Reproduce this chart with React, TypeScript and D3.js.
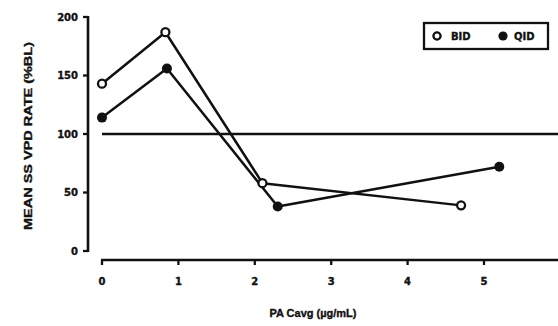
import React from "react";
import * as d3 from "d3";

// Dosing regimens: mean steady-state VPD rate vs PA Cavg
const bidDose = [0, 0.83, 2.1, 4.7];
const bidRate = [143, 187, 58, 39];
const qidDose = [0, 0.85, 2.3, 5.2];
const qidRate = [114, 156, 38, 72];

const yTicks = [0, 50, 100, 150, 200];
const xTicks = [0, 1, 2, 3, 4, 5];
const baselineRate = 100;

const legendLabels = ["BID", "QID"];
const yTitle = "MEAN SS VPD RATE (%BL)";
const xTitle = "PA Cavg (\u00b5g/mL)";

const W = 558;
const H = 326;
const font = "'DejaVu Sans', sans-serif";
const titleFont = "'Liberation Sans', Arial, sans-serif";
const ink = "#111";

// bold, slightly heavy lettering
const heavy = { stroke: ink, strokeWidth: 0.35 };

export default function App() {
  const x = d3.scaleLinear().domain([0, 6]).range([102, 560.4]);
  const y = d3.scaleLinear().domain([0, 200]).range([251, 17]);

  const line = d3
    .line<[number, number]>()
    .x((d) => x(d[0]))
    .y((d) => y(d[1]));

  const bid: [number, number][] = bidDose.map((d, i) => [d, bidRate[i]]);
  const qid: [number, number][] = qidDose.map((d, i) => [d, qidRate[i]]);

  const axisX = 88;
  const axisY = 260;

  return (
    <svg
      width={W}
      height={H}
      style={{ position: "absolute", left: 0, top: 0, background: "#fff" }}
    >
      <rect width={W} height={H} fill="#fff" />

      {/* y axis */}
      <line x1={axisX} x2={axisX} y1={y(200) - 1} y2={y(0) + 1} stroke={ink} strokeWidth={2.6} />
      {yTicks.map((t) => (
        <g key={t}>
          <line x1={axisX - 5} x2={axisX} y1={y(t)} y2={y(t)} stroke={ink} strokeWidth={2.3} />
          <text
            x={78}
            y={y(t)}
            dy="0.36em"
            textAnchor="end"
            fontFamily={font}
            fontWeight="bold"
            fontSize={10}
            fill={ink}
            {...heavy}
          >
            {t}
          </text>
        </g>
      ))}

      {/* x axis */}
      <line x1={x(0) - 1} x2={W} y1={axisY} y2={axisY} stroke={ink} strokeWidth={2.6} />
      {xTicks.map((t) => (
        <g key={t}>
          <line x1={x(t)} x2={x(t)} y1={axisY} y2={axisY + 5} stroke={ink} strokeWidth={2.3} />
          <text
            x={x(t)}
            y={281}
            dy="0.36em"
            textAnchor="middle"
            fontFamily={font}
            fontWeight="bold"
            fontSize={10}
            fill={ink}
            {...heavy}
          >
            {t}
          </text>
        </g>
      ))}

      {/* baseline reference */}
      <line
        x1={x(0)}
        x2={W}
        y1={y(baselineRate)}
        y2={y(baselineRate)}
        stroke={ink}
        strokeWidth={2.6}
      />

      {/* series lines */}
      <path d={line(bid) || ""} fill="none" stroke={ink} strokeWidth={2.5} strokeLinejoin="round" />
      <path d={line(qid) || ""} fill="none" stroke={ink} strokeWidth={2.5} strokeLinejoin="round" />

      {bid.map((d, i) => (
        <circle key={"b" + i} cx={x(d[0])} cy={y(d[1])} r={4} fill="#fff" stroke={ink} strokeWidth={2.3} />
      ))}
      {qid.map((d, i) => (
        <circle key={"q" + i} cx={x(d[0])} cy={y(d[1])} r={5} fill={ink} />
      ))}

      {/* legend */}
      <rect x={424} y={23} width={124} height={26} fill="#fff" stroke={ink} strokeWidth={2.3} />
      <circle cx={437} cy={36} r={3.6} fill="#fff" stroke={ink} strokeWidth={2.3} />
      <text x={451} y={36} dy="0.36em" fontFamily={font} fontWeight="bold" fontSize={10} fill={ink} {...heavy}>
        {legendLabels[0]}
      </text>
      <circle cx={503} cy={36} r={4.6} fill={ink} />
      <text x={514} y={36} dy="0.36em" fontFamily={font} fontWeight="bold" fontSize={10} fill={ink} {...heavy}>
        {legendLabels[1]}
      </text>

      {/* axis titles */}
      <text
        transform={`translate(28,136) rotate(-90)`}
        textAnchor="middle"
        dy="0.36em"
        fontFamily={titleFont}
        fontWeight="bold"
        fontSize={11}
        textLength={188}
        lengthAdjust="spacingAndGlyphs"
        fill={ink}
        {...heavy}
      >
        {yTitle}
      </text>
      <text
        x={313}
        y={313}
        dy="0.36em"
        textAnchor="middle"
        fontFamily={titleFont}
        fontWeight="bold"
        fontSize={11}
        fill={ink}
        {...heavy}
      >
        {xTitle}
      </text>
    </svg>
  );
}
